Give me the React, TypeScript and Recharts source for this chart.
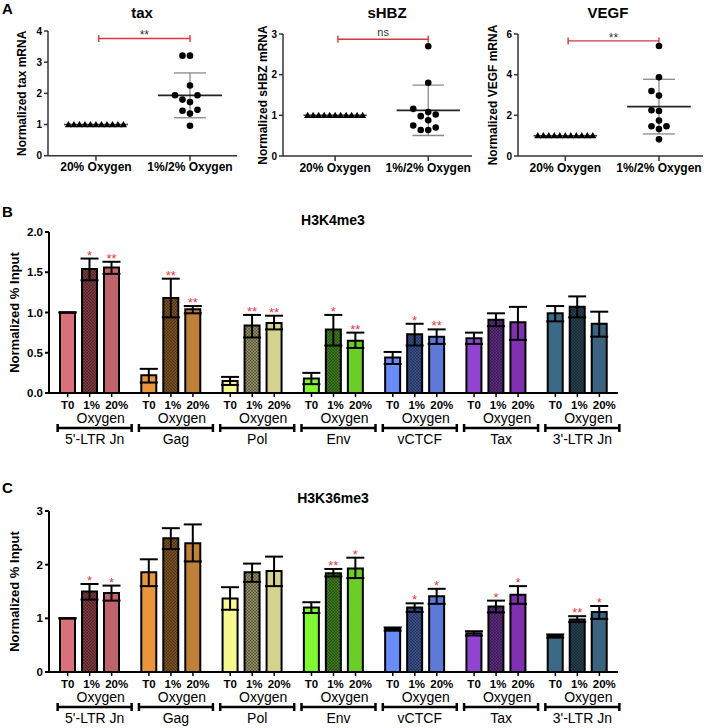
import React from 'react';
import {
  ScatterChart, Scatter, XAxis, YAxis, ReferenceLine,
  BarChart, Bar, ErrorBar, LabelList, Cell,
} from 'recharts';

const FONT = '"Liberation Sans", Arial, Helvetica, sans-serif';

// ---------------- Panel A data ----------------
const oxygenGroups = ['20% Oxygen', '1%/2% Oxygen'];
const taxNormoxia = [1, 1, 1, 1, 1, 1, 1, 1, 1, 1, 1];
const taxHypoxia = [3.21, 3.21, 2.25, 1.94, 1.94, 1.8, 1.72, 1.47, 1.44, 1.35, 0.96];
const shbzNormoxia = [1, 1, 1, 1, 1, 1, 1, 1, 1, 1, 1];
const shbzHypoxia = [2.7, 1.8, 1.16, 1.08, 1.02, 0.98, 0.88, 0.75, 0.7, 0.64, 0.64];
const vegfNormoxia = [1, 1, 1, 1, 1, 1, 1, 1, 1, 1, 1];
const vegfHypoxia = [5.41, 3.87, 3.2, 2.97, 2.25, 2.21, 1.74, 1.46, 1.46, 1.33, 0.82];
const sigLabels = ['**', 'ns', '**'];
const sigLevels = [3.76, 2.87, 5.66];

// ---------------- Panel B / C data ----------------
const genes = ["5'-LTR Jn", 'Gag', 'Pol', 'Env', 'vCTCF', 'Tax', "3'-LTR Jn"];
const condLabels = ['T0', '1%', '20%'];

const k4T0 = [1.0, 0.22, 0.15, 0.18, 0.44, 0.68, 0.99];
const k4T0Lo = [1.0, 0.13, 0.1, 0.11, 0.36, 0.61, 0.89];
const k4T0Hi = [1.0, 0.3, 0.2, 0.25, 0.51, 0.75, 1.08];
const k4H1 = [1.54, 1.18, 0.84, 0.79, 0.73, 0.91, 1.07];
const k4H1Lo = [1.4, 0.94, 0.69, 0.59, 0.59, 0.83, 0.94];
const k4H1Hi = [1.67, 1.42, 0.97, 0.97, 0.86, 0.99, 1.2];
const k4N20 = [1.56, 1.04, 0.87, 0.65, 0.7, 0.88, 0.86];
const k4N20Lo = [1.48, 0.99, 0.79, 0.56, 0.61, 0.66, 0.7];
const k4N20Hi = [1.63, 1.08, 0.96, 0.75, 0.79, 1.07, 1.01];
const k4Star1 = ['*', '**', '**', '*', '*', '', ''];
const k4Star20 = ['**', '**', '**', '**', '**', '', ''];

const k36T0 = [1.0, 1.86, 1.37, 1.2, 0.8, 0.72, 0.67];
const k36T0Lo = [1.0, 1.6, 1.16, 1.1, 0.77, 0.68, 0.64];
const k36T0Hi = [1.0, 2.1, 1.58, 1.3, 0.83, 0.76, 0.7];
const k36H1 = [1.5, 2.49, 1.86, 1.84, 1.2, 1.22, 0.98];
const k36H1Lo = [1.35, 2.29, 1.68, 1.78, 1.12, 1.11, 0.93];
const k36H1Hi = [1.64, 2.68, 2.02, 1.92, 1.28, 1.33, 1.04];
const k36N20 = [1.47, 2.4, 1.88, 1.93, 1.41, 1.44, 1.12];
const k36N20Lo = [1.33, 2.06, 1.6, 1.75, 1.27, 1.27, 0.99];
const k36N20Hi = [1.61, 2.75, 2.15, 2.13, 1.55, 1.6, 1.23];
const k36Star1 = ['*', '', '', '**', '*', '*', '**'];
const k36Star20 = ['*', '', '', '*', '*', '*', '*'];

// styles
const t0Colors = ['#d9707a', '#e8953c', '#f8f890', '#80f830', '#6a8cf8', '#9044d0', '#3b6a86'];
const h1Colors = ['#7b3a40', '#7a5022', '#8c8a60', '#3e7a1e', '#3a4e8a', '#5a2a7e', '#25404f'];
const n20Colors = ['#c0636b', '#c0803a', '#d4d28c', '#6ccc28', '#5e7ad8', '#8030b0', '#3a6480'];
const STAR_RED = '#e8383d';

// ---------------- helpers ----------------
function stats(vals: number[]) {
  const n = vals.length;
  const mean = vals.reduce((a, b) => a + b, 0) / n;
  const sd = n > 1 ? Math.sqrt(vals.reduce((a, b) => a + (b - mean) * (b - mean), 0) / (n - 1)) : 0;
  return { mean, sd };
}

// beeswarm placement: returns x in data units
function swarm(values: number[], center: number, pxPerX: number, pxPerY: number, gapPx: number) {
  const order = values.slice().sort((a, b) => a - b);
  const placed: { px: number; py: number }[] = [];
  const out: { x: number; y: number }[] = [];
  for (const v of order) {
    const py = v * pxPerY;
    for (let k = 0; k < 60; k++) {
      const m = k === 0 ? 0 : k % 2 === 1 ? -Math.ceil(k / 2) : Math.ceil(k / 2);
      const px = m * gapPx;
      if (placed.every((p) => Math.hypot(p.px - px, p.py - py) >= gapPx - 0.01)) {
        placed.push({ px, py });
        out.push({ x: center + px / pxPerX, y: v });
        break;
      }
    }
  }
  return out;
}

const Triangle = (p: any) => (
  <path d={`M${p.cx},${p.cy - 3.6} L${p.cx + 3.6},${p.cy + 2.6} L${p.cx - 3.6},${p.cy + 2.6} Z`} fill="#000" />
);
const Dot = (p: any) => <circle cx={p.cx} cy={p.cy} r={3.3} fill="#000" />;

const makeBracket = (label: string) => (p: any) => {
  const { x1, y1, x2 } = p;
  return (
    <g>
      <line x1={x1} y1={y1} x2={x2} y2={y1} stroke="#d9363e" strokeWidth={1.4} />
      <line x1={x1} y1={y1 - 3.5} x2={x1} y2={y1 + 3.5} stroke="#d9363e" strokeWidth={1.4} />
      <line x1={x2} y1={y1 - 3.5} x2={x2} y2={y1 + 3.5} stroke="#d9363e" strokeWidth={1.4} />
      <text x={(x1 + x2) / 2} y={label === 'ns' ? y1 - 3 : y1 + 1} textAnchor="middle" fontSize={label === 'ns' ? 11 : 12} fill="#333" fontFamily={FONT}>
        {label}
      </text>
    </g>
  );
};

const mrnaCharts = [
  { title: 'tax', yLabel: 'Normalized tax mRNA', left: 0, width: 240, marginRight: 3, plotTop: 31, plotBottom: 155.7, xDomain: [0.49, 2.5], yMax: 4, yTicks: [0, 1, 2, 3, 4], normoxia: taxNormoxia, hypoxia: taxHypoxia, sig: 0, titleX: 142, yLabelX: 22, letter: 'A' },
  { title: 'sHBZ', yLabel: 'Normalized sHBZ mRNA', left: 235, width: 240, marginRight: 3, plotTop: 34, plotBottom: 156, xDomain: [0.44, 2.47], yMax: 3, yTicks: [0, 1, 2, 3], normoxia: shbzNormoxia, hypoxia: shbzHypoxia, sig: 1, titleX: 152, yLabelX: 28, letter: '' },
  { title: 'VEGF', yLabel: 'Normalized VEGF mRNA', left: 470, width: 237, marginRight: 4, plotTop: 34, plotBottom: 156, xDomain: [0.495, 2.47], yMax: 6, yTicks: [0, 2, 4, 6], normoxia: vegfNormoxia, hypoxia: vegfHypoxia, sig: 2, titleX: 138, yLabelX: 23, letter: '' },
];

function MrnaPanel({ cfg }: { cfg: any }) {
  const yAxisW = 48;
  const xAxisH = 30;
  const height = 200;
  const plotRight = cfg.width - cfg.marginRight;
  const pxPerX = (plotRight - yAxisW) / (cfg.xDomain[1] - cfg.xDomain[0]);
  const pxPerY = (cfg.plotBottom - cfg.plotTop) / cfg.yMax;
  const normPts = swarm(cfg.normoxia, 1, pxPerX, pxPerY, 5.5);
  const hypPts = swarm(cfg.hypoxia, 2, pxPerX, pxPerY, 7.5);
  const sN = stats(cfg.normoxia);
  const sH = stats(cfg.hypoxia);
  const half = 0.34;
  const cap = 0.17;
  const yMid = (cfg.plotTop + cfg.plotBottom) / 2;
  return (
    <div style={{ position: 'absolute', left: cfg.left, top: 0 }}>
      <ScatterChart
        width={cfg.width}
        height={height}
        margin={{ top: cfg.plotTop, right: cfg.marginRight, bottom: height - cfg.plotBottom - xAxisH, left: 0 }}
      >
        {cfg.letter ? (
          <text x={2} y={14} fontSize={15} fontWeight="bold" fontFamily={FONT}>{cfg.letter}</text>
        ) : null}
        <text x={cfg.titleX} y={18} textAnchor="middle" fontSize={15} fontWeight="bold" fontFamily={FONT}>{cfg.title}</text>
        <text
          x={cfg.yLabelX}
          y={yMid}
          transform={`rotate(-90 ${cfg.yLabelX} ${yMid})`}
          textAnchor="middle"
          dominantBaseline="central"
          fontSize={12}
          fontWeight="bold"
          fontFamily={FONT}
        >
          {cfg.yLabel}
        </text>
        <XAxis
          type="number"
          dataKey="x"
          domain={cfg.xDomain}
          ticks={[1, 2]}
          allowDataOverflow
          tickFormatter={(v: number) => oxygenGroups[Math.round(v) - 1]}
          height={xAxisH}
          stroke="#333"
          strokeWidth={1.5}
          tickSize={5}
          tickMargin={2}
          tick={{ fill: '#000', fontSize: 12, fontWeight: 'bold', fontFamily: FONT }}
        />
        <YAxis
          type="number"
          dataKey="y"
          domain={[0, cfg.yMax]}
          ticks={cfg.yTicks}
          allowDataOverflow
          width={yAxisW}
          stroke="#333"
          strokeWidth={1.5}
          tickSize={4}
          tickMargin={2}
          tick={{ fill: '#000', fontSize: 10, fontWeight: 'bold', fontFamily: FONT }}
        />
        {/* normoxia mean */}
        <ReferenceLine segment={[{ x: 1 - half, y: sN.mean }, { x: 1 + half, y: sN.mean }]} stroke="#444" strokeWidth={1.5} ifOverflow="visible" />
        {/* hypoxia SD */}
        <ReferenceLine segment={[{ x: 2, y: sH.mean - sH.sd }, { x: 2, y: sH.mean + sH.sd }]} stroke="#888" strokeWidth={1.3} ifOverflow="visible" />
        <ReferenceLine segment={[{ x: 2 - cap, y: sH.mean + sH.sd }, { x: 2 + cap, y: sH.mean + sH.sd }]} stroke="#888" strokeWidth={1.3} ifOverflow="visible" />
        <ReferenceLine segment={[{ x: 2 - cap, y: sH.mean - sH.sd }, { x: 2 + cap, y: sH.mean - sH.sd }]} stroke="#888" strokeWidth={1.3} ifOverflow="visible" />
        <ReferenceLine segment={[{ x: 2 - half, y: sH.mean }, { x: 2 + half, y: sH.mean }]} stroke="#222" strokeWidth={1.6} ifOverflow="visible" />
        <Scatter data={normPts} shape={Triangle} isAnimationActive={false} />
        <Scatter data={hypPts} shape={Dot} isAnimationActive={false} />
        <ReferenceLine
          segment={[{ x: 1.03, y: sigLevels[cfg.sig] }, { x: 2, y: sigLevels[cfg.sig] }]}
          shape={makeBracket(sigLabels[cfg.sig])}
          ifOverflow="visible"
        />
      </ScatterChart>
    </div>
  );
}

// ---------------- bar panels ----------------
const BAR_SIZE = 15;
const BAR_GAP = 7;
const STEP = BAR_SIZE + BAR_GAP;

function GeneTick(props: any) {
  const { x, y, payload } = props;
  const labelOffsets = [-22, 2, 27];
  return (
    <g fontFamily={FONT}>
      {[-1, 0, 1].map((k) => (
        <line key={k} x1={x + k * STEP} x2={x + k * STEP} y1={y} y2={y + 4} stroke="#000" strokeWidth={1.5} />
      ))}
      {condLabels.map((c, k) => (
        <text key={c} x={x + labelOffsets[k]} y={y + 16} textAnchor="middle" fontSize={11.5} fontWeight="bold" fill="#000">
          {c}
        </text>
      ))}
      <text x={x + STEP / 2} y={y + 30} textAnchor="middle" fontSize={14} fill="#000">Oxygen</text>
      <line x1={x - 32} x2={x + 42} y1={y + 35} y2={y + 35} stroke="#000" strokeWidth={2.5} />
      <line x1={x - 32} x2={x - 32} y1={y + 31} y2={y + 39} stroke="#000" strokeWidth={2.5} />
      <line x1={x + 42} x2={x + 42} y1={y + 31} y2={y + 39} stroke="#000" strokeWidth={2.5} />
      <text x={x + 5} y={y + 51} textAnchor="middle" fontSize={14} fill="#000">{payload.value}</text>
    </g>
  );
}

const starContent = (rows: any[], key: string, hiKey: string, starKey: string) => (p: any) => {
  const idx = p.index;
  const r = rows[idx];
  if (!r || !r[starKey]) return null;
  const vb = p.viewBox && p.viewBox.width !== undefined ? p.viewBox : p;
  const bx = vb.x;
  const by = vb.y;
  const bw = vb.width;
  const bh = vb.height;
  const base = by + bh;
  const ppu = bh / r[key];
  const yTop = base - r[hiKey] * ppu;
  return (
    <text x={bx + bw / 2} y={yTop + 1} textAnchor="middle" fill={STAR_RED} fontSize={13} fontFamily={FONT}>
      {r[starKey]}
    </text>
  );
};

function buildRows(t0: number[], t0Lo: number[], t0Hi: number[], h1: number[], h1Lo: number[], h1Hi: number[], n20: number[], n20Lo: number[], n20Hi: number[], s1: string[], s20: string[]) {
  return genes.map((g, i) => ({
    gene: g,
    t0: t0[i],
    t0Err: [t0[i] - t0Lo[i], t0Hi[i] - t0[i]],
    h1: h1[i],
    h1Hi: h1Hi[i],
    h1Err: [h1[i] - h1Lo[i], h1Hi[i] - h1[i]],
    h1Star: s1[i],
    n20: n20[i],
    n20Hi: n20Hi[i],
    n20Err: [n20[i] - n20Lo[i], n20Hi[i] - n20[i]],
    n20Star: s20[i],
  }));
}

const rowsB = buildRows(k4T0, k4T0Lo, k4T0Hi, k4H1, k4H1Lo, k4H1Hi, k4N20, k4N20Lo, k4N20Hi, k4Star1, k4Star20);
const rowsC = buildRows(k36T0, k36T0Lo, k36T0Hi, k36H1, k36H1Lo, k36H1Hi, k36N20, k36N20Lo, k36N20Hi, k36Star1, k36Star20);

function HistonePanel(props: any) {
  const { top, height, marginTop, xAxisH, rows, yMax, yTicks, fmt, title, titleY, letter, letterY, prefix } = props;
  const plotBottom = height - xAxisH;
  const yMid = (marginTop + plotBottom) / 2;
  return (
    <div style={{ position: 'absolute', left: 0, top }}>
      <BarChart
        width={707}
        height={height}
        data={rows}
        margin={{ top: marginTop, right: 89, bottom: 0, left: 0 }}
        barSize={BAR_SIZE}
        barGap={BAR_GAP}
      >
        <defs>
          {h1Colors.map((c, i) => (
            <pattern key={i} id={`${prefix}hatch${i}`} width={3} height={3} patternUnits="userSpaceOnUse">
              <rect width={3} height={3} fill={c} />
              <path d="M0,0 L3,3 M3,0 L0,3" stroke="rgba(0,0,0,0.35)" strokeWidth={0.7} />
            </pattern>
          ))}
        </defs>
        <text x={2} y={letterY} fontSize={15} fontWeight="bold" fontFamily={FONT}>{letter}</text>
        <text x={333} y={titleY} textAnchor="middle" fontSize={14} fontWeight="bold" fontFamily={FONT}>{title}</text>
        <text
          x={14}
          y={yMid}
          transform={`rotate(-90 14 ${yMid})`}
          textAnchor="middle"
          dominantBaseline="central"
          fontSize={13}
          fontWeight="bold"
          fontFamily={FONT}
        >
          Normalized % Input
        </text>
        <XAxis
          dataKey="gene"
          interval={0}
          height={xAxisH}
          tickLine={false}
          tickSize={0}
          tickMargin={0}
          stroke="#000"
          strokeWidth={2}
          tick={<GeneTick />}
        />
        <YAxis
          domain={[0, yMax]}
          ticks={yTicks}
          allowDataOverflow
          width={49}
          stroke="#000"
          strokeWidth={2}
          tickSize={4}
          tickMargin={2}
          tickFormatter={fmt}
          tick={{ fill: '#000', fontSize: 11.5, fontWeight: 'bold', fontFamily: FONT }}
        />
        <Bar dataKey="t0" stroke="#000" strokeWidth={2} isAnimationActive={false}>
          {rows.map((_: any, i: number) => (
            <Cell key={i} fill={t0Colors[i]} />
          ))}
          <ErrorBar dataKey="t0Err" width={9} strokeWidth={2} stroke="#000" />
        </Bar>
        <Bar dataKey="h1" stroke="#000" strokeWidth={2} isAnimationActive={false}>
          {rows.map((_: any, i: number) => (
            <Cell key={i} fill={`url(#${prefix}hatch${i})`} />
          ))}
          <ErrorBar dataKey="h1Err" width={9} strokeWidth={2} stroke="#000" />
          <LabelList dataKey="h1Star" content={starContent(rows, 'h1', 'h1Hi', 'h1Star')} />
        </Bar>
        <Bar dataKey="n20" stroke="#000" strokeWidth={2} isAnimationActive={false}>
          {rows.map((_: any, i: number) => (
            <Cell key={i} fill={n20Colors[i]} />
          ))}
          <ErrorBar dataKey="n20Err" width={9} strokeWidth={2} stroke="#000" />
          <LabelList dataKey="n20Star" content={starContent(rows, 'n20', 'n20Hi', 'n20Star')} />
        </Bar>
      </BarChart>
    </div>
  );
}

export default function App() {
  return (
    <div style={{ position: 'absolute', left: 0, top: 0, width: 707, height: 728, background: '#fff', fontFamily: FONT }}>
      {mrnaCharts.map((c) => (
        <MrnaPanel key={c.title} cfg={c} />
      ))}
      <HistonePanel
        top={200}
        height={250}
        marginTop={32}
        xAxisH={57}
        rows={rowsB}
        yMax={2}
        yTicks={[0, 0.5, 1, 1.5, 2]}
        fmt={(v: number) => v.toFixed(1)}
        title="H3K4me3"
        titleY={25}
        letter="B"
        letterY={17}
        prefix="b"
      />
      <HistonePanel
        top={450}
        height={278}
        marginTop={61}
        xAxisH={56}
        rows={rowsC}
        yMax={3}
        yTicks={[0, 1, 2, 3]}
        fmt={(v: number) => String(v)}
        title="H3K36me3"
        titleY={53}
        letter="C"
        letterY={43}
        prefix="c"
      />
    </div>
  );
}
